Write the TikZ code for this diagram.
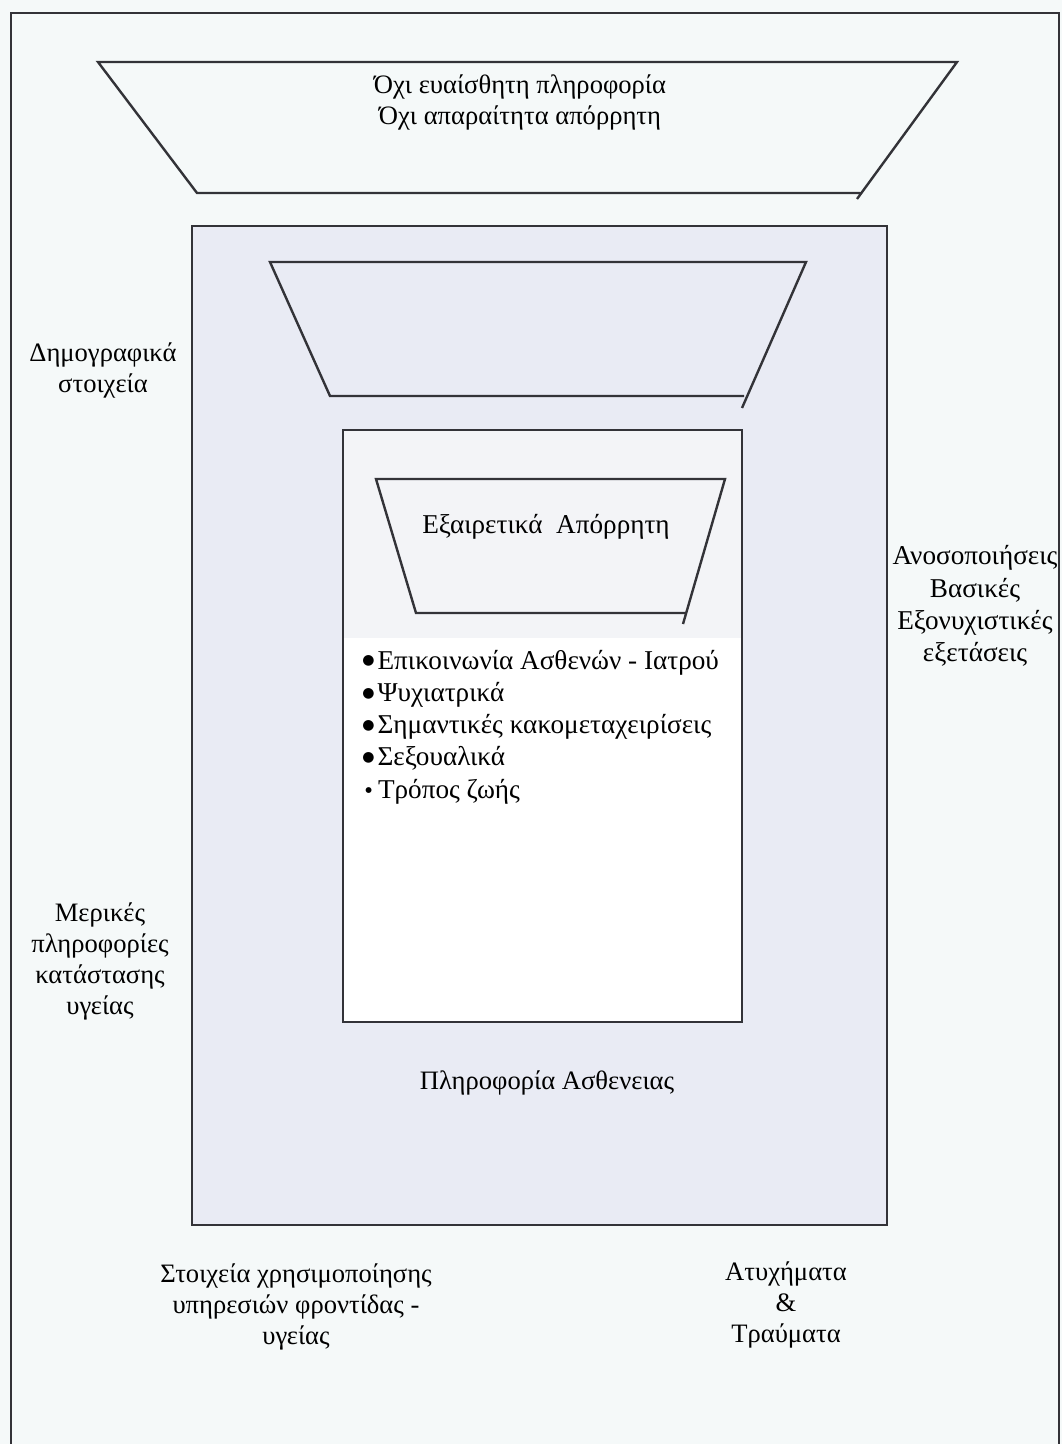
\documentclass[tikz,border=0pt]{standalone}
\usepackage{fontspec}
\setmainfont{Liberation Serif}
\newfontfamily\dotfont{DejaVu Sans}
\newcommand{\bigdot}{\raisebox{2.2pt}{\dotfont\fontsize{7}{7}\selectfont ●}\hspace{1.5pt}}
\newcommand{\smalldot}{\hspace{1.5pt}\raisebox{2.8pt}{\dotfont\fontsize{3.8}{4}\selectfont ●}\hspace{3pt}}
\definecolor{pagebg}{HTML}{F5F9F9}
\definecolor{midbg}{HTML}{E9EBF4}
\definecolor{topbg}{HTML}{F3F4F7}
\definecolor{edge}{HTML}{333338}
\begin{document}
\begin{tikzpicture}[x=0.5pt,y=-0.5pt,
    frame/.style={draw=edge, line width=1.2pt},
    lbl/.style={align=center, inner sep=0pt, font=\fontsize{13.3}{15.5}\selectfont},
    wide/.style={lbl, font=\fontsize{13.6}{16.1}\selectfont}]
        \useasboundingbox (0,0) rectangle (1062,1444);
        \fill[pagebg] (0,0) rectangle (1062,1444);

        % Define coordinates
        \coordinate (T1) at (98,62);
        \coordinate (T2) at (957,62);
        \coordinate (T3) at (860,193);
        \coordinate (T4) at (197,193);
        \coordinate (M1) at (270,262);
        \coordinate (M2) at (806,262);
        \coordinate (M3) at (744,396);
        \coordinate (M4) at (330,396);
        \coordinate (S1) at (376,479);
        \coordinate (S2) at (725,479);
        \coordinate (S3) at (686,613);
        \coordinate (S4) at (416,613);

        % Outer frame, open at the bottom
        \draw[frame] (11,1444) -- (11,13) -- (1059,13) -- (1059,1444);

        % Shaded middle box and white inner box
        \draw[frame, fill=midbg] (192,226) rectangle (887,1225);
        \draw[frame, fill=white] (343,430) rectangle (742,1022);
        \fill[topbg] ([xshift=0.6pt,yshift=-0.6pt]343,430) rectangle (741,638);
        \draw[frame] (343,430) rectangle (742,1022);

        % Draw the trapezoids
        \draw[frame] (T3) -- (T4) -- (T1) -- (T2) -- (857,199);
        \draw[frame] (M3) -- (M4) -- (M1) -- (M2) -- (742,408);
        \draw[frame] (S3) -- (S4) -- (S1) -- (S2) -- (683,624);

        % Labels
        \node[lbl] (open) at (520,102) {Όχι ευαίσθητη πληροφορία\\Όχι απαραίτητα απόρρητη};
        \node[wide] (secret) at (546,527) {Εξαιρετικά\ \ Απόρρητη};
        \node[wide, align=left, anchor=west] (list) at (362,727)
            {\bigdot Επικοινωνία Ασθενών - Ιατρού\\
             \bigdot Ψυχιατρικά\\
             \bigdot Σημαντικές κακομεταχειρίσεις\\
             \bigdot Σεξουαλικά\\
             \smalldot Τρόπος ζωής};
        \node[lbl] (illness) at (547,1083) {Πληροφορία Ασθενειας};
        \node[lbl] (demo) at (103,370) {Δημογραφικά\\στοιχεία};
        \node[lbl] (health) at (100,961) {Μερικές\\πληροφορίες\\κατάστασης\\υγείας};
        \node[wide] (tests) at (975,606) {Ανοσοποιήσεις\\Βασικές\\Εξονυχιστικές\\εξετάσεις};
        \node[lbl] (usage) at (296,1307) {Στοιχεία χρησιμοποίησης\\υπηρεσιών φροντίδας -\\υγείας};
        \node[lbl] (injury) at (786,1305) {Ατυχήματα\\\&\\Τραύματα};
    \end{tikzpicture}
\end{document}
